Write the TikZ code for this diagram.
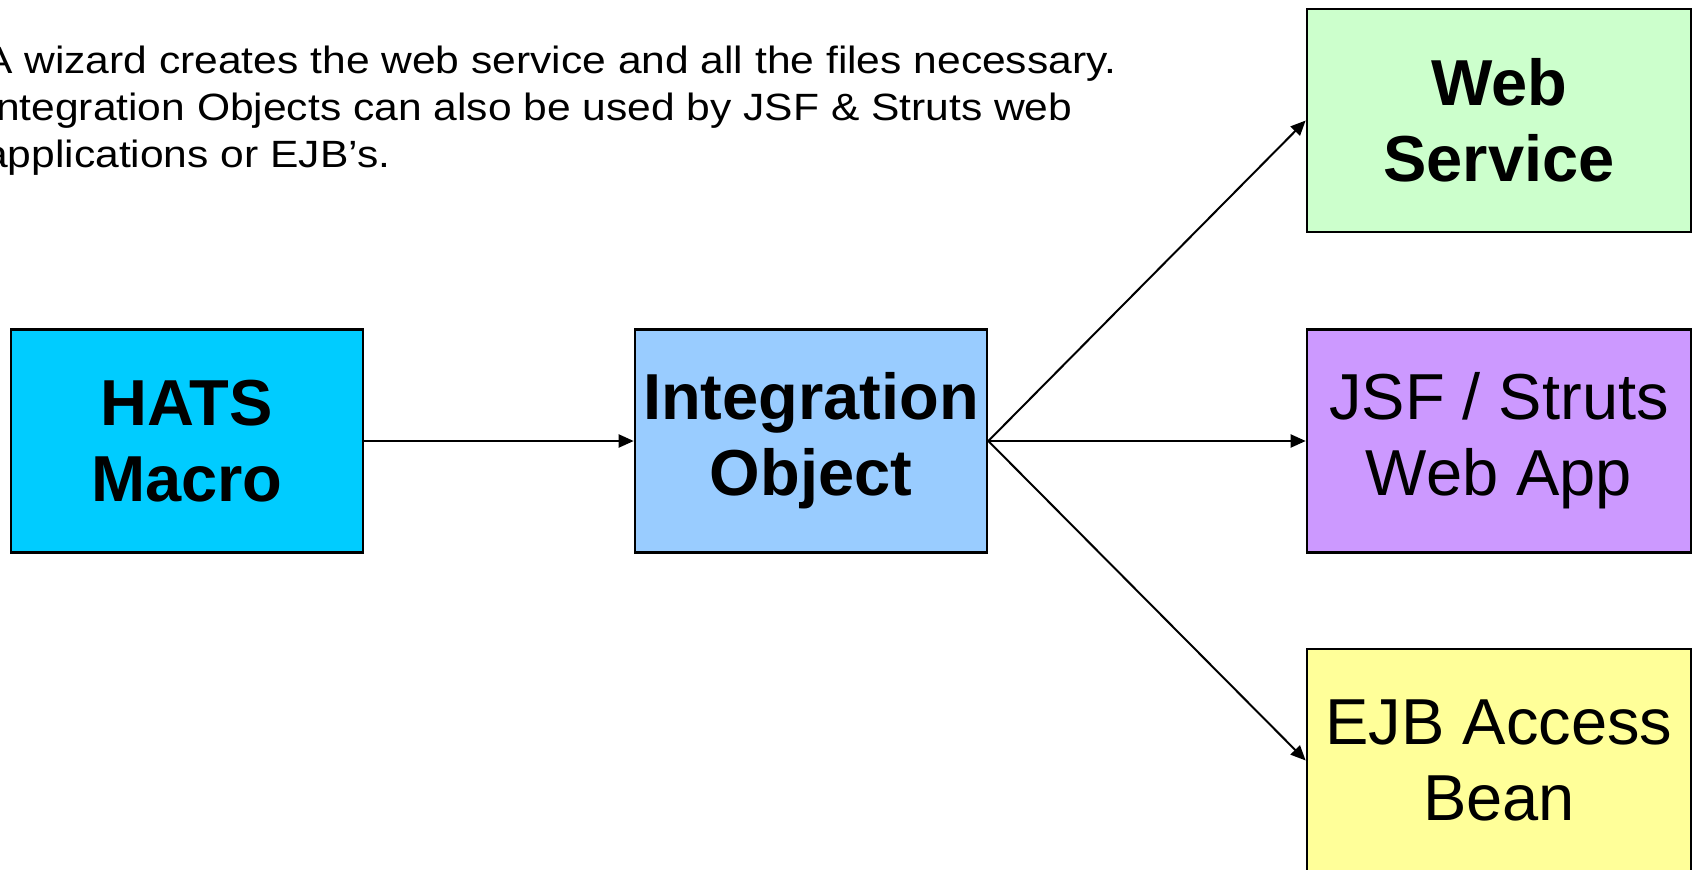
\documentclass[tikz,border=0pt]{standalone}
\usepackage{fontspec}
\usepackage{graphicx}
\setmainfont{Liberation Sans}
\usetikzlibrary{arrows.meta}
\definecolor{hatscol}{HTML}{00CCFF}
\definecolor{intcol}{HTML}{99CCFF}
\definecolor{wscol}{HTML}{CCFFCC}
\definecolor{jsfcol}{HTML}{CC99FF}
\definecolor{ejbcol}{HTML}{FFFF99}
\newcommand{\widetxt}[1]{\scalebox{1.12}[1]{#1}}
\tikzset{
  box/.style={draw=black, line width=2.6pt, rectangle, inner sep=0pt,
    minimum height=223pt, align=center, font=\fontsize{65}{76}\selectfont},
  leftbox/.style={box, minimum width=352pt},
  rightbox/.style={box, minimum width=384pt},
  conn/.style={line width=2pt, -{Triangle[length=15pt,width=13pt]}},
  bodytext/.style={anchor=base west, inner sep=0pt, font=\fontsize{38}{47}\selectfont}
}
\begin{document}
\begin{tikzpicture}[x=1pt,y=-1pt]
\useasboundingbox (0,0) rectangle (1695,870);
\fill[white] (0,0) rectangle (1695,870);
\node[bodytext] (t1) at (-16,73) {\widetxt{A wizard creates the web service and all the files necessary.}};
\node[bodytext] (t2) at (-16,120) {\widetxt{Integration Objects can also be used by JSF \& Struts web}};
\node[bodytext] (t3) at (-16,167) {\widetxt{applications or EJB’s.}};

\node[leftbox, fill=hatscol] (hats) at (187,441) {\bfseries HATS\\\bfseries Macro};
\node[leftbox, fill=intcol] (int) at (811,441) {\bfseries Integration\\\bfseries Object};
\node[rightbox, fill=wscol] (ws) at (1499,120.5) {\bfseries Web\\\bfseries Service};
\node[rightbox, fill=jsfcol] (jsf) at (1499,441) {JSF / Struts\\Web App};
\node[rightbox, fill=ejbcol] (ejb) at (1499,760.5) {EJB Access\\Bean};

\draw[conn] (hats.east) -- (int.west);
\draw[conn] (int.east) -- (ws.west);
\draw[conn] (int.east) -- (jsf.west);
\draw[conn] (int.east) -- (ejb.west);
\end{tikzpicture}
\end{document}
